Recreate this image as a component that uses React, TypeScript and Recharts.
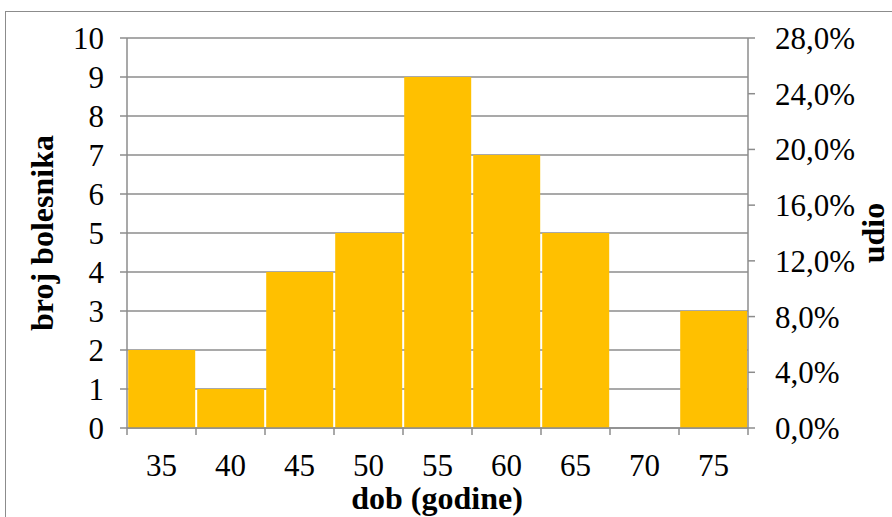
import { ComposedChart, Bar, Line, XAxis, YAxis, CartesianGrid, Label } from 'recharts';

const ages = ['35', '40', '45', '50', '55', '60', '65', '70', '75'];
const patients = [2, 1, 4, 5, 9, 7, 5, 0, 3];
const countTicks = [0, 1, 2, 3, 4, 5, 6, 7, 8, 9, 10];
const shareTicks = [0, 0.04, 0.08, 0.12, 0.16, 0.2, 0.24, 0.28];

const total = patients.reduce((a, b) => a + b, 0);
const data = ages.map((age, i) => ({ age, patients: patients[i], share: patients[i] / total }));

const GRAY = '#8c8c8c';
const FONT = '"Liberation Serif", "Times New Roman", serif';
const BAND = 69;

const XTick = (props: any) => {
  const { x, y, payload, index } = props;
  const axisY = y - 26;
  const left = x - BAND / 2;
  return (
    <g>
      <line x1={left} x2={left} y1={axisY} y2={axisY + 7} stroke={GRAY} strokeWidth={1.5} />
      {index === ages.length - 1 && (
        <line x1={left + BAND} x2={left + BAND} y1={axisY} y2={axisY + 7} stroke={GRAY} strokeWidth={1.5} />
      )}
      <text x={x} y={y} dy="0.71em" textAnchor="middle" fontSize={31} fontFamily={FONT} fill="#000">
        {payload.value}
      </text>
    </g>
  );
};

const pct = (v: number) => `${(v * 100).toFixed(1).replace('.', ',')}%`;

export default function App() {
  return (
    <div style={{ position: 'absolute', left: 0, top: 0, width: 892, height: 517, overflow: 'hidden', background: '#fff' }}>
      <div
        style={{
          position: 'absolute',
          left: 5,
          top: 11,
          width: 1000,
          height: 1000,
          border: `1.5px solid ${GRAY}`,
        }}
      />
      <ComposedChart
        width={892}
        height={517}
        data={data}
        margin={{ top: 38, right: 60, bottom: 0, left: 40 }}
        barCategoryGap={1.2}
        style={{ position: 'absolute', left: 0, top: 0 }}
      >
        <CartesianGrid vertical={false} stroke={GRAY} strokeWidth={1.5} yAxisId="count" />
        <XAxis
          dataKey="age"
          height={89}
          axisLine={{ stroke: GRAY, strokeWidth: 1.5 }}
          tickLine={false}
          tickSize={7}
          tickMargin={19}
          tick={<XTick />}
          interval={0}
        >
          <Label
            content={() => (
              <text x={437} y={509} textAnchor="middle" fontSize={32} fontWeight="bold" fontFamily={FONT} fill="#000">
                dob (godine)
              </text>
            )}
          />
        </XAxis>
        <YAxis
          yAxisId="count"
          width={87}
          domain={[0, 10]}
          ticks={countTicks}
          interval={0}
          axisLine={{ stroke: GRAY, strokeWidth: 1.5 }}
          tickLine={{ stroke: GRAY, strokeWidth: 1.5 }}
          tickSize={7}
          tickMargin={16}
          tick={{ fontSize: 31, fontFamily: FONT, fill: '#000' }}
        >
          <Label
            content={() => (
              <text
                x={53}
                y={233}
                transform="rotate(-90, 53, 233)"
                textAnchor="middle"
                fontSize={32}
                fontWeight="bold"
                fontFamily={FONT}
                fill="#000"
              >
                broj bolesnika
              </text>
            )}
          />
        </YAxis>
        <YAxis
          yAxisId="share"
          orientation="right"
          width={84}
          domain={[0, 0.28]}
          ticks={shareTicks}
          interval={0}
          allowDataOverflow
          tickFormatter={pct}
          axisLine={{ stroke: GRAY, strokeWidth: 1.5 }}
          tickLine={{ stroke: GRAY, strokeWidth: 1.5 }}
          tickSize={7}
          tickMargin={20}
          tick={{ fontSize: 31, fontFamily: FONT, fill: '#000' }}
        >
          <Label
            content={() => (
              <text
                x={884}
                y={233}
                transform="rotate(-90, 884, 233)"
                textAnchor="middle"
                fontSize={32}
                fontWeight="bold"
                fontFamily={FONT}
                fill="#000"
              >
                udio
              </text>
            )}
          />
        </YAxis>
        <Bar yAxisId="count" dataKey="patients" fill="#FFC000" isAnimationActive={false} />
        <Line
          yAxisId="share"
          dataKey="share"
          stroke="none"
          dot={false}
          activeDot={false}
          legendType="none"
          isAnimationActive={false}
        />
      </ComposedChart>
    </div>
  );
}
